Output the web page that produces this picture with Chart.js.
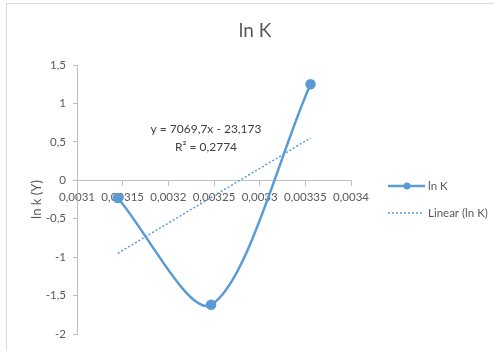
<!DOCTYPE html>
<html>
<head>
<meta charset="utf-8">
<script src="https://cdn.jsdelivr.net/npm/chart.js@4"></script>
<style>
  html, body { margin: 0; padding: 0; background: #fff; }
  #frame { position: absolute; left: 6px; top: 3px; width: 488px; height: 348px;
           border-left: 1px solid #d9d9d9; border-top: 1px solid #d9d9d9; }
  #chart { position: absolute; left: 0; top: 0; }
</style>
</head>
<body>
<div id="frame"></div>
<canvas id="chart" width="494" height="351"></canvas>
<script>
// data (x = 1/T, y = ln K)
const xValues = [0.0031447, 0.0032468, 0.0033557]
const lnK = [-0.23, -1.62, 1.25]
// linear trendline end points
const trendX = [0.0031447, 0.0033557]
const trendY = [-0.95, 0.55]
const trendText = ['y = 7069,7x - 23,173', 'R² = 0,2774']

const blue = '#5b9bd5'
const grey = '#595959'
const font = 'Lato, "Open Sans", sans-serif'

function comma(v) {
    return String(+v.toFixed(6)).replace('.', ',')
}

// title, legend and equation label drawn by hand, like excel
const extras = {
    id: 'extras',
    afterDraw: function (chart) {
        var ctx = chart.ctx
        ctx.save()
        ctx.textBaseline = 'middle'
        ctx.textAlign = 'center'
        ctx.fillStyle = grey
        ctx.font = '19px ' + font
        ctx.fillText('ln K', 255, 31)

        ctx.font = '12px ' + font
        ctx.fillStyle = '#404040'
        ctx.fillText(trendText[0], 206, 129)
        ctx.fillText(trendText[1], 206, 147)

        // legend
        ctx.strokeStyle = blue
        ctx.lineWidth = 2.5
        ctx.beginPath()
        ctx.moveTo(388, 186)
        ctx.lineTo(425, 186)
        ctx.stroke()
        ctx.fillStyle = blue
        ctx.beginPath()
        ctx.arc(407, 186, 3.5, 0, Math.PI * 2)
        ctx.fill()
        ctx.lineWidth = 1.5
        ctx.setLineDash([2, 2])
        ctx.beginPath()
        ctx.moveTo(388, 213)
        ctx.lineTo(423, 213)
        ctx.stroke()
        ctx.setLineDash([])
        ctx.font = '11.5px ' + font
        ctx.fillStyle = grey
        ctx.textAlign = 'left'
        ctx.fillText('ln K', 428, 186)
        ctx.fillText('Linear (ln K)', 428, 213)
        ctx.restore()
    }
}

var ctx = document.getElementById('chart').getContext('2d')
var chart = new Chart(ctx, {
    type: 'scatter',
    data: {
        datasets: [{
            label: 'ln K',
            data: xValues.map((x, i) => ({ x: x, y: lnK[i] })),
            showLine: true,
            tension: 0.3,
            borderColor: blue,
            backgroundColor: blue,
            borderWidth: 2.5,
            pointRadius: 4,
            pointHoverRadius: 4
        }, {
            label: 'Linear (ln K)',
            data: trendX.map((x, i) => ({ x: x, y: trendY[i] })),
            showLine: true,
            borderColor: blue,
            borderWidth: 1.5,
            borderDash: [2, 2],
            pointRadius: 0
        }]
    },
    options: {
        responsive: false,
        animation: false,
        layout: {
            padding: { left: 29, right: 143, top: 65, bottom: 17 }
        },
        plugins: {
            legend: { display: false },
            tooltip: { enabled: false },
            title: { display: false }
        },
        scales: {
            x: {
                type: 'linear',
                position: { y: 0 },
                min: 0.0031,
                max: 0.0034,
                grid: {
                    drawOnChartArea: false,
                    drawTicks: true,
                    tickLength: 5,
                    color: '#bfbfbf'
                },
                border: { color: '#bfbfbf' },
                ticks: {
                    stepSize: 0.00005,
                    color: grey,
                    padding: 5,
                    maxRotation: 0,
                    autoSkip: false,
                    font: { family: font, size: 11.5 },
                    callback: v => comma(v)
                }
            },
            y: {
                min: -2,
                max: 1.5,
                afterFit: s => { s.width = 48 },
                grid: {
                    drawOnChartArea: false,
                    drawTicks: true,
                    tickLength: 4,
                    color: '#bfbfbf'
                },
                border: { color: '#bfbfbf' },
                title: {
                    display: true,
                    text: 'ln k (Y)',
                    color: grey,
                    font: { family: font, size: 13 },
                    padding: { top: 0, bottom: 0 }
                },
                ticks: {
                    stepSize: 0.5,
                    color: grey,
                    padding: 7,
                    font: { family: font, size: 11.5 },
                    callback: v => comma(v)
                }
            }
        }
    },
    plugins: [extras]
});
</script>
</body>
</html>
